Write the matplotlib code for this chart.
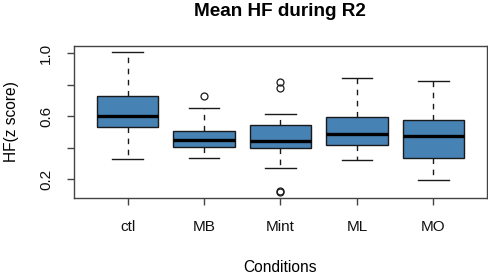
import numpy as np
import matplotlib.pyplot as plt

plt.rcParams['font.family'] = ['Liberation Sans', 'DejaVu Sans']

# values
conditions = ['ctl', 'MB', 'Mint', 'ML', 'MO']
whislo = [0.327, 0.335, 0.270, 0.319, 0.192]
q1 = [0.530, 0.407, 0.397, 0.414, 0.335]
med = [0.600, 0.448, 0.440, 0.488, 0.477]
q3 = [0.727, 0.507, 0.543, 0.596, 0.573]
whishi = [1.010, 0.653, 0.615, 0.843, 0.824]
fliers = [[], [0.727], [0.818, 0.780, 0.124, 0.116], [], []]

stats = []
for i, name in enumerate(conditions):
    stats.append({'label': name, 'whislo': whislo[i], 'q1': q1[i], 'med': med[i],
                  'q3': q3[i], 'whishi': whishi[i], 'fliers': fliers[i]})

fig = plt.figure(figsize=(4.89, 2.73), dpi=100)
ax = fig.add_axes([0.1513, 0.2747, 0.8446, 0.5568])

ax.bxp(stats, positions=range(1, 6), widths=0.8, patch_artist=True,
       boxprops=dict(facecolor='#4682B4', edgecolor='#1a1a1a', linewidth=1.0),
       medianprops=dict(color='black', linewidth=2.4),
       whiskerprops=dict(color='#1a1a1a', linewidth=1.0, linestyle=(0, (4, 4))),
       capprops=dict(color='#1a1a1a', linewidth=1.0), capwidths=0.4,
       flierprops=dict(marker='o', markerfacecolor='none', markeredgecolor='#1a1a1a',
                       markersize=5, markeredgewidth=0.9))

allv = whislo + whishi + [v for f in fliers for v in f]
lo, hi = min(allv), max(allv)
pad = 0.04 * (hi - lo)
ax.set_ylim(lo - pad, hi + pad)
ax.set_xlim(0.3, 5.7)

ax.set_yticks([0.2, 0.4, 0.6, 0.8, 1.0])
ax.set_yticklabels(['0.2', '', '0.6', '', '1.0'], rotation=90, va='center')
ax.set_xticks(range(1, 6))
ax.set_xticklabels(conditions)
ax.tick_params(axis='both', direction='out', length=5, width=1.0, color='#444444',
               labelsize=11, labelcolor='#111111')
ax.tick_params(axis='x', pad=11)
ax.tick_params(axis='y', pad=10)

for s in ax.spines.values():
    s.set_color('#444444')
    s.set_linewidth(1.0)

# title centred over the plot region, like R's main
fig.text(0.573, 1 - 12 / 273, 'Mean HF during R2', fontsize=13.6, fontweight='bold',
         ha='center', va='center')
ax.set_xlabel('Conditions', fontsize=11.2)
ax.set_ylabel('HF(z score)', fontsize=11.2)
ax.xaxis.set_label_coords(0.5, -0.454)
ax.yaxis.set_label_coords(-0.152, 0.5)
ax.xaxis.label.set_va('center')
ax.yaxis.label.set_va('center')

fig.savefig('out.png', dpi=100)
